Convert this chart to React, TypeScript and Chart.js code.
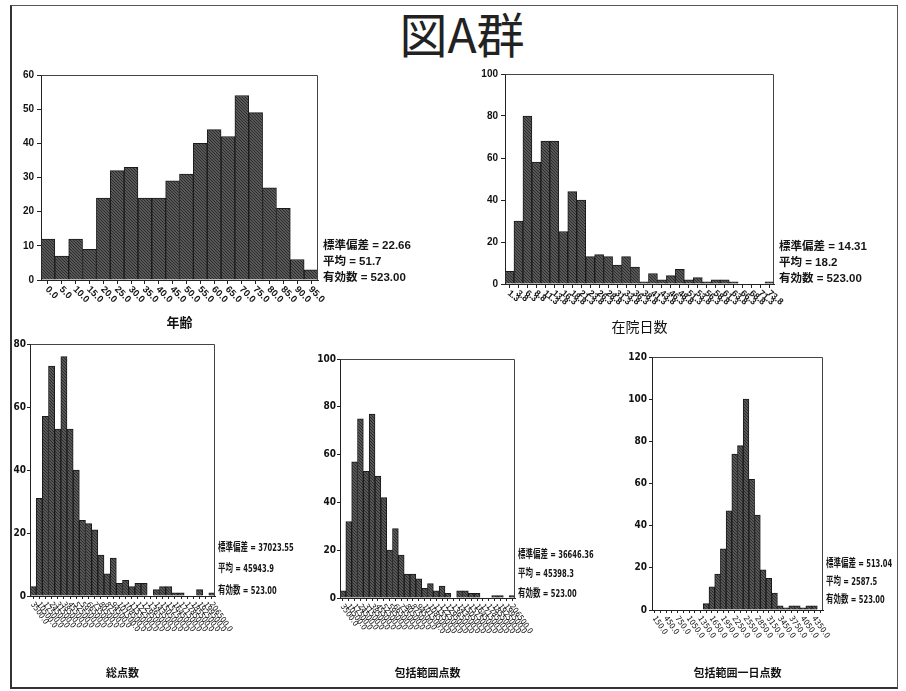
import React, { useEffect, useRef } from 'react';
import { Chart, registerables } from 'chart.js';

Chart.register(...registerables);

// ---------- data ----------
const ageLabels = ['0.0', '5.0', '10.0', '15.0', '20.0', '25.0', '30.0', '35.0', '40.0', '45.0', '50.0', '55.0', '60.0', '65.0', '70.0', '75.0', '80.0', '85.0', '90.0', '95.0'];
const ageCounts = [12, 7, 12, 9, 24, 32, 33, 24, 24, 29, 31, 40, 44, 42, 54, 49, 27, 21, 6, 3];

const stayLabels = ['1.3', '3.8', '6.3', '8.8', '11.3', '13.8', '16.3', '18.8', '21.3', '23.8', '26.3', '28.8', '31.3', '33.8', '36.3', '38.8', '41.3', '43.8', '46.3', '48.8', '51.3', '53.8', '56.3', '58.8', '61.3', '63.8', '66.3', '68.8', '71.3', '73.8'];
const stayCounts = [6, 30, 80, 58, 68, 68, 25, 44, 40, 13, 14, 13, 9, 13, 8, 1, 5, 2, 4, 7, 2, 3, 1, 2, 2, 1, 0, 0, 0, 1];

const totalLabels = ['3500.0', '10500.0', '17500.0', '24500.0', '31500.0', '38500.0', '45500.0', '52500.0', '59500.0', '66500.0', '73500.0', '80500.0', '87500.0', '94500.0', '101500.0', '108500.0', '115500.0', '122500.0', '129500.0', '136500.0', '143500.0', '150500.0', '157500.0', '164500.0', '171500.0', '178500.0', '185500.0', '192500.0', '199500.0', '206500.0'];
const totalCounts = [3, 31, 57, 73, 53, 76, 53, 40, 24, 23, 21, 13, 7, 12, 4, 5, 3, 4, 4, 0, 2, 3, 3, 1, 1, 0, 0, 2, 0, 1];

const inclusiveLabels = ['3500.0', '10500.0', '17500.0', '24500.0', '31500.0', '38500.0', '45500.0', '52500.0', '59500.0', '66500.0', '73500.0', '80500.0', '87500.0', '94500.0', '101500.0', '108500.0', '115500.0', '122500.0', '129500.0', '136500.0', '143500.0', '150500.0', '157500.0', '164500.0', '171500.0', '178500.0', '185500.0', '192500.0', '199500.0', '206500.0'];
const inclusiveCounts = [3, 32, 57, 75, 53, 77, 51, 42, 20, 29, 18, 10, 10, 8, 4, 6, 3, 5, 2, 0, 3, 3, 2, 2, 0, 0, 1, 1, 0, 1];

const dailyLabels = ['150.0', '300.0', '450.0', '600.0', '750.0', '900.0', '1050.0', '1200.0', '1350.0', '1500.0', '1650.0', '1800.0', '1950.0', '2100.0', '2250.0', '2400.0', '2550.0', '2700.0', '2850.0', '3000.0', '3150.0', '3300.0', '3450.0', '3600.0', '3750.0', '3900.0', '4050.0', '4200.0', '4350.0', '4500.0'];
const dailyCounts = [0, 0, 0, 0, 0, 0, 0, 0, 0, 3, 11, 17, 29, 47, 74, 78, 100, 62, 45, 19, 15, 8, 2, 1, 2, 2, 1, 2, 2, 0];

const ageStats = ['標準偏差 = 22.66', '平均 = 51.7', '有効数 = 523.00'];
const stayStats = ['標準偏差 = 14.31', '平均 = 18.2', '有効数 = 523.00'];
const totalStats = ['標準偏差 = 37023.55', '平均 = 45943.9', '有効数 = 523.00'];
const inclusiveStats = ['標準偏差 = 36646.36', '平均 = 45398.3', '有効数 = 523.00'];
const dailyStats = ['標準偏差 = 513.04', '平均 = 2587.5', '有効数 = 523.00'];

// ---------- layout / style ----------
const SANS = '"Liberation Sans", Arial, "Noto Sans CJK JP", sans-serif';
const NARROW = '"Liberation Sans Narrow", "DejaVu Sans Condensed", "Liberation Sans", "Noto Sans CJK JP", sans-serif';
const CJK = '"Noto Sans CJK JP", "Liberation Sans", sans-serif';

type Spec = {
  labels: string[];
  counts: number[];
  left: number; top: number; width: number; height: number;
  area: { l: number; r: number; t: number; b: number };
  yMax: number; yStep: number;
  title: string; titleY: number; titleFont: any;
  tickFont: any; tickLen: number; tickPad: number;
  labelFont: string; labelAngle: number; labelEvery: number; labelDy: number;
};

const specs: Spec[] = [
  {
    labels: ageLabels, counts: ageCounts,
    left: 8, top: 64, width: 330, height: 271,
    area: { l: 41, r: 318, t: 75, b: 280 },
    yMax: 60, yStep: 10,
    title: '年齢', titleY: 322, titleFont: { family: CJK, size: 13, weight: 'bold' },
    tickFont: { family: SANS, size: 10, weight: 'bold' }, tickLen: 4, tickPad: 3,
    labelFont: `bold 9.5px ${SANS}`, labelAngle: 45, labelEvery: 1, labelDy: 8,
  },
  {
    labels: stayLabels, counts: stayCounts,
    left: 470, top: 64, width: 322, height: 275,
    area: { l: 505, r: 774, t: 74, b: 284 },
    yMax: 100, yStep: 20,
    title: '在院日数', titleY: 327, titleFont: { family: CJK, size: 14, weight: 'normal' },
    tickFont: { family: SANS, size: 10, weight: 'bold' }, tickLen: 4, tickPad: 3,
    labelFont: `bold 9px ${SANS}`, labelAngle: 40, labelEvery: 1, labelDy: 8,
  },
  {
    labels: totalLabels, counts: totalCounts,
    left: 9, top: 336, width: 240, height: 350,
    area: { l: 30, r: 215, t: 344, b: 596 },
    yMax: 80, yStep: 20,
    title: '総点数', titleY: 673, titleFont: { family: CJK, size: 11, weight: 'bold' },
    tickFont: { family: NARROW, size: 10, weight: 'bold' }, tickLen: 3, tickPad: 1,
    labelFont: `8px ${NARROW}`, labelAngle: 55, labelEvery: 1, labelDy: 7,
  },
  {
    labels: inclusiveLabels, counts: inclusiveCounts,
    left: 318, top: 350, width: 225, height: 336,
    area: { l: 340, r: 515, t: 359, b: 598 },
    yMax: 100, yStep: 20,
    title: '包括範囲点数', titleY: 673, titleFont: { family: CJK, size: 11, weight: 'bold' },
    tickFont: { family: NARROW, size: 10, weight: 'bold' }, tickLen: 3, tickPad: 1,
    labelFont: `8px ${NARROW}`, labelAngle: 55, labelEvery: 1, labelDy: 7,
  },
  {
    labels: dailyLabels, counts: dailyCounts,
    left: 628, top: 348, width: 220, height: 338,
    area: { l: 652, r: 823, t: 357, b: 610 },
    yMax: 120, yStep: 20,
    title: '包括範囲一日点数', titleY: 673, titleFont: { family: CJK, size: 11, weight: 'bold' },
    tickFont: { family: NARROW, size: 10, weight: 'bold' }, tickLen: 3, tickPad: 2,
    labelFont: `8px ${NARROW}`, labelAngle: 55, labelEvery: 2, labelDy: 7,
  },
];

type StatBlock = { lines: string[]; x: number; ys: number[]; font: string; size: number; weight: string; scaleX: number };
const statBlocks: StatBlock[] = [
  { lines: ageStats, x: 323, ys: [245, 261, 277], font: SANS, size: 11.5, weight: 'bold', scaleX: 1 },
  { lines: stayStats, x: 779, ys: [246, 262, 278], font: SANS, size: 11.5, weight: 'bold', scaleX: 1 },
  { lines: totalStats, x: 218, ys: [548, 569, 591], font: NARROW, size: 11, weight: 'bold', scaleX: 0.68 },
  { lines: inclusiveStats, x: 518, ys: [555, 574, 594], font: NARROW, size: 11, weight: 'bold', scaleX: 0.68 },
  { lines: dailyStats, x: 826, ys: [564, 582, 600], font: NARROW, size: 11, weight: 'bold', scaleX: 0.68 },
];

function makePattern(ctx: CanvasRenderingContext2D): CanvasPattern | string {
  const c = document.createElement('canvas');
  c.width = 3; c.height = 3;
  const g = c.getContext('2d');
  if (!g) return '#505050';
  g.fillStyle = '#585858';
  g.fillRect(0, 0, 3, 3);
  g.fillStyle = '#2c2c2c';
  g.fillRect(0, 0, 1, 1);
  g.fillRect(1, 1, 1, 1);
  g.fillRect(2, 2, 1, 1);
  const p = ctx.createPattern(c, 'repeat');
  return p || '#505050';
}

function Histogram({ spec }: { spec: Spec }) {
  const ref = useRef<HTMLCanvasElement | null>(null);
  useEffect(() => {
    const canvas = ref.current;
    if (!canvas) return;
    const ctx = canvas.getContext('2d');
    if (!ctx) return;
    const pattern = makePattern(ctx);
    const { area } = spec;
    const xAxisH = spec.top + spec.height - spec.area.b;
    const yAxisW = area.l - spec.left;
    const titleLH = spec.titleFont.size * 1.2;
    const titlePadBottom = spec.top + spec.height - spec.titleY - titleLH / 2;

    const framePlugin = {
      id: 'frame',
      afterDatasetsDraw(chart: any) {
        const { ctx: c, chartArea: a } = chart;
        c.save();
        c.strokeStyle = '#444';
        c.lineWidth = 1;
        c.beginPath();
        c.moveTo(Math.round(a.left) + 0.5, Math.round(a.top) + 0.5);
        c.lineTo(Math.round(a.right) - 0.5, Math.round(a.top) + 0.5);
        c.lineTo(Math.round(a.right) - 0.5, Math.round(a.bottom));
        c.stroke();
        c.restore();
      },
    };

    const labelPlugin = {
      id: 'slantLabels',
      afterDraw(chart: any) {
        const xs = chart.scales.x;
        const c = chart.ctx;
        c.save();
        c.font = spec.labelFont;
        c.fillStyle = '#151515';
        c.textAlign = 'left';
        c.textBaseline = 'middle';
        spec.labels.forEach((lab, i) => {
          if (i % spec.labelEvery !== 0) return;
          const x = xs.getPixelForValue(i);
          c.save();
          c.translate(x - 1, xs.top + spec.labelDy);
          c.rotate((spec.labelAngle * Math.PI) / 180);
          c.fillText(lab, 0, 0);
          c.restore();
        });
        c.restore();
      },
    };

    const chart = new Chart(canvas, {
      type: 'bar',
      data: {
        labels: spec.labels,
        datasets: [
          {
            data: spec.counts,
            backgroundColor: pattern as any,
            borderColor: '#1a1a1a',
            borderWidth: 1,
            categoryPercentage: 1,
            barPercentage: 1,
          },
        ],
      },
      options: {
        responsive: false,
        animation: false,
        devicePixelRatio: 1,
        layout: {
          padding: {
            left: 0,
            top: area.t - spec.top,
            right: spec.left + spec.width - area.r,
            bottom: 0,
          },
        },
        plugins: {
          legend: { display: false },
          tooltip: { enabled: false },
        },
        scales: {
          x: {
            type: 'category',
            grid: {
              offset: false,
              drawOnChartArea: false,
              drawTicks: true,
              tickLength: spec.tickLen,
              color: '#222',
            },
            border: { display: true, color: '#222', width: 1 },
            ticks: { display: false },
            title: {
              display: true,
              text: spec.title,
              font: spec.titleFont,
              color: '#111',
              padding: { top: 0, bottom: titlePadBottom },
            },
            afterFit: (s: any) => {
              s.height = xAxisH;
            },
          },
          y: {
            min: 0,
            max: spec.yMax,
            ticks: {
              stepSize: spec.yStep,
              font: spec.tickFont,
              color: '#111',
              padding: spec.tickPad,
            },
            grid: {
              drawOnChartArea: false,
              drawTicks: true,
              tickLength: spec.tickLen,
              color: '#222',
            },
            border: { display: true, color: '#222', width: 1 },
            afterFit: (s: any) => {
              s.width = yAxisW;
            },
          },
        },
      } as any,
      plugins: [framePlugin, labelPlugin],
    });
    return () => chart.destroy();
  }, [spec]);

  return (
    <canvas
      ref={ref}
      width={spec.width}
      height={spec.height}
      style={{ position: 'absolute', left: spec.left, top: spec.top, width: spec.width, height: spec.height }}
    />
  );
}

export default function App() {
  return (
    <div
      style={{
        position: 'absolute',
        left: 0,
        top: 0,
        width: 906,
        height: 691,
        background: '#ffffff',
        overflow: 'hidden',
      }}
    >
      <div
        style={{
          position: 'absolute',
          left: 10,
          top: 5,
          width: 888,
          height: 684,
          boxSizing: 'border-box',
          borderLeft: '2px solid #333',
          borderTop: '1px solid #555',
          borderRight: '1px solid #555',
          borderBottom: '2px solid #333',
        }}
      />
      <div
        style={{
          position: 'absolute',
          left: 362,
          top: 4,
          width: 200,
          height: 56,
          lineHeight: '56px',
          textAlign: 'center',
          fontFamily: CJK,
          fontSize: 48,
          fontWeight: 400,
          color: '#222',
        }}
      >
        図A群
      </div>
      {specs.map((s, i) => (
        <Histogram key={i} spec={s} />
      ))}
      {statBlocks.map((b, bi) =>
        b.lines.map((line, li) => (
          <div
            key={`${bi}-${li}`}
            style={{
              position: 'absolute',
              left: b.x,
              top: b.ys[li] - 8,
              height: 16,
              lineHeight: '16px',
              whiteSpace: 'nowrap',
              fontFamily: b.font,
              fontSize: b.size,
              fontWeight: b.weight as any,
              color: '#151515',
              transform: `scaleX(${b.scaleX})`,
              transformOrigin: 'left center',
            }}
          >
            {line}
          </div>
        ))
      )}
    </div>
  );
}
